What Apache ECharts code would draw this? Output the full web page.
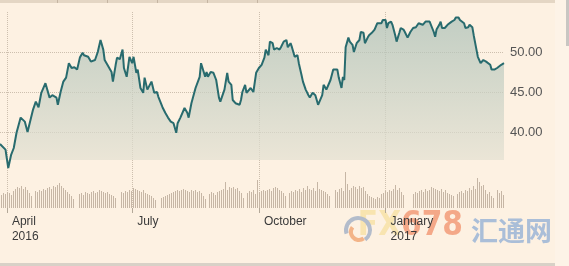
<!DOCTYPE html>
<html><head><meta charset="utf-8">
<script src="https://cdn.jsdelivr.net/npm/echarts@6/dist/echarts.min.js"></script>
<style>html,body{margin:0;padding:0;background:#fdf1e2;overflow:hidden}#c{width:569px;height:266px}</style>
</head><body><div id="c"></div>
<script>
// ---- data ----
const axisStart = '2016-03-27';
const axisEnd = '2017-03-28';
const tickDates = ['2016-04-01', '2016-07-01', '2016-10-01', '2017-01-01'];
const tickLabels = ['April\n2016', 'July', 'October', 'January\n2017'];
const yTickValues = [40, 45, 50];

const priceDates = [
'2016-03-27','2016-03-31','2016-04-02','2016-04-04','2016-04-06','2016-04-08','2016-04-11','2016-04-14','2016-04-16','2016-04-20','2016-04-22','2016-04-24','2016-04-26','2016-04-29',
'2016-05-02','2016-05-04','2016-05-07','2016-05-08','2016-05-10','2016-05-12','2016-05-14','2016-05-16','2016-05-18','2016-05-20','2016-05-22','2016-05-24','2016-05-26','2016-05-27','2016-05-30',
'2016-06-01','2016-06-04','2016-06-06','2016-06-08','2016-06-10','2016-06-11','2016-06-13','2016-06-16','2016-06-17','2016-06-19','2016-06-20','2016-06-22','2016-06-24','2016-06-25','2016-06-27','2016-06-29',
'2016-07-01','2016-07-02','2016-07-04','2016-07-05','2016-07-07','2016-07-09','2016-07-10','2016-07-12','2016-07-15','2016-07-17','2016-07-19','2016-07-20','2016-07-23','2016-07-25','2016-07-27','2016-07-29','2016-07-31',
'2016-08-02','2016-08-03','2016-08-05','2016-08-08','2016-08-10','2016-08-11','2016-08-13','2016-08-16','2016-08-19','2016-08-20','2016-08-21','2016-08-23','2016-08-24','2016-08-25','2016-08-27','2016-08-29','2016-08-31',
'2016-09-02','2016-09-03','2016-09-06','2016-09-08','2016-09-09','2016-09-11','2016-09-12','2016-09-14','2016-09-17','2016-09-18','2016-09-19','2016-09-21','2016-09-22','2016-09-25','2016-09-26','2016-09-27','2016-09-29',
'2016-10-01','2016-10-03','2016-10-05','2016-10-06','2016-10-08','2016-10-09','2016-10-11','2016-10-12','2016-10-14','2016-10-16','2016-10-17','2016-10-19','2016-10-21','2016-10-22','2016-10-24','2016-10-25','2016-10-27','2016-10-29','2016-10-30',
'2016-11-01','2016-11-02','2016-11-04','2016-11-06','2016-11-07','2016-11-09','2016-11-10','2016-11-11','2016-11-13','2016-11-14','2016-11-16','2016-11-17','2016-11-19','2016-11-20','2016-11-22','2016-11-24','2016-11-25','2016-11-27','2016-11-28','2016-11-30',
'2016-12-01','2016-12-02','2016-12-03','2016-12-05','2016-12-06','2016-12-08','2016-12-09','2016-12-11','2016-12-13','2016-12-14','2016-12-16','2016-12-17','2016-12-19','2016-12-20','2016-12-22','2016-12-24','2016-12-26','2016-12-27','2016-12-29','2016-12-30',
'2017-01-01','2017-01-02','2017-01-03','2017-01-05','2017-01-06','2017-01-08','2017-01-09','2017-01-11','2017-01-12','2017-01-14','2017-01-15','2017-01-17','2017-01-18','2017-01-19','2017-01-21','2017-01-23','2017-01-25','2017-01-26','2017-01-28','2017-01-30','2017-01-31',
'2017-02-02','2017-02-03','2017-02-05','2017-02-06','2017-02-07','2017-02-09','2017-02-10','2017-02-11','2017-02-13','2017-02-15','2017-02-16','2017-02-18','2017-02-20','2017-02-21','2017-02-23','2017-02-24','2017-02-25','2017-02-27','2017-02-28',
'2017-03-01','2017-03-02','2017-03-03','2017-03-05','2017-03-06','2017-03-08','2017-03-09','2017-03-11','2017-03-12','2017-03-13','2017-03-15','2017-03-16','2017-03-18','2017-03-19','2017-03-21','2017-03-23','2017-03-24','2017-03-26','2017-03-27','2017-03-28'
];
const priceValues = [
38.5,37.8,35.5,37.1,38.0,39.9,41.8,41.3,40.0,42.8,43.8,43.1,44.9,46.1,
44.3,44.6,44.3,43.4,45.0,46.3,46.8,48.6,48.0,48.1,47.8,49.3,49.9,49.6,49.4,
48.8,49.0,50.0,51.5,50.3,49.0,48.4,47.5,46.3,48.4,49.3,49.1,50.3,48.0,46.9,49.4,
48.6,49.4,47.4,47.8,45.5,44.9,46.8,45.3,46.3,44.9,45.0,44.4,43.1,42.4,41.8,41.3,41.1,
39.9,41.1,41.8,43.0,42.4,41.8,43.6,45.5,46.9,48.6,48.6,46.9,47.5,46.9,47.5,47.4,46.5,
44.3,43.8,45.3,47.4,46.3,45.9,44.0,43.6,43.4,44.0,45.0,45.9,44.9,45.5,45.5,45.0,47.4,
48.0,48.4,49.3,50.3,49.6,51.3,51.1,50.3,50.5,50.3,50.6,51.3,51.5,50.6,51.1,50.6,49.4,49.6,48.6,
47.1,46.3,45.3,44.6,44.3,44.9,45.0,44.6,43.4,43.4,44.6,45.9,45.3,45.5,46.5,47.8,48.0,47.8,46.8,45.5,
46.9,46.5,50.6,51.8,51.3,50.9,50.0,51.1,51.5,52.5,52.4,51.1,51.8,52.1,52.4,52.8,53.6,53.8,53.6,54.0,
54.0,53.0,53.6,53.8,53.4,52.1,51.3,52.4,53.0,52.8,52.5,51.8,51.8,52.5,53.0,53.1,53.6,53.8,53.4,53.8,54.0,
53.8,53.6,52.5,51.9,52.8,53.4,53.8,53.0,53.0,53.4,53.4,53.8,54.0,54.3,54.3,54.0,54.0,53.6,53.0,
52.8,53.1,53.4,53.1,52.1,50.3,49.4,48.6,48.6,49.0,48.8,48.6,48.4,47.8,47.8,48.0,48.1,48.4,48.6,48.6
];
// daily volume (one bar per session, relative units)
const volumeValues = [
13,15,14,16,15,13,17,19,21,20,22,19,21,18,15,12,
0,
17,16,18,17,19,18,20,21,19,22,21,23,25,22,20,18,16,14,12,9,
0,0,
14,15,13,16,15,14,16,17,15,16,18,17,16,15,16,14,13,12,10,
0,0,
16,15,17,16,18,17,20,19,18,17,16,18,15,14,13,12,10,8,
0,0,
10,11,12,13,14,15,16,17,18,17,18,19,18,17,16,18,17,18,16,17,15,12,9,
0,
14,16,15,13,16,17,18,19,26,18,21,20,21,19,20,17,15,10,
0,
15,17,16,18,14,28,16,17,18,17,18,19,17,20,21,20,18,17,15,12,
0,
15,17,16,18,17,19,16,20,18,22,19,18,20,17,26,19,18,17,16,14,12,
0,0,
18,16,19,20,17,36,24,18,20,22,21,19,22,20,21,17,14,
12,11,10,9,11,10,
14,15,17,16,18,17,19,23,18,20,16,13,
0,0,0,0,
14,16,15,17,18,16,19,17,18,21,20,19,18,17,19,16,18,15,14,13,12,
0,
14,16,17,15,18,17,20,18,22,19,30,26,22,23,18,14,16,12,10,
0,
18,15,17,13
];

// ---- calendar categories ----
const days = [];
for (let t = Date.parse(axisStart + 'T00:00:00Z'); t <= Date.parse(axisEnd + 'T00:00:00Z'); t += 86400000) {
  days.push(new Date(t).toISOString().slice(0, 10));
}
const volCats = volumeValues.map((_, i) => String(i));
const isTick = (i, v) => tickDates.indexOf(v) >= 0;

const gridLineColor = '#cdbfae';
const chart = echarts.init(document.getElementById('c'), null, {renderer: 'canvas'});
chart.setOption({
  animation: false,
  backgroundColor: '#fdf1e2',
  grid: [
    {left: 0, width: 504, top: 12, height: 200, outerBoundsMode: 'none'},
    {left: 0.5, width: 504, top: 168, height: 40, outerBoundsMode: 'none'}
  ],
  xAxis: [
    {
      gridIndex: 0, type: 'category', data: days, boundaryGap: false, offset: -4,
      axisLine: {show: false},
      axisTick: {show: true, length: 5, interval: isTick, lineStyle: {color: '#b3a898'}},
      axisLabel: {
        interval: isTick, align: 'left', padding: [0, 0, 0, 5], margin: 6,
        fontSize: 12, lineHeight: 15, color: '#3a3a3a', fontFamily: 'Liberation Sans, Arial, sans-serif',
        formatter: v => tickLabels[tickDates.indexOf(v)] || ''
      },
      splitLine: {show: true, interval: isTick, lineStyle: {color: gridLineColor, type: 'dotted', width: 1}}
    },
    {gridIndex: 1, type: 'category', data: volCats, show: false}
  ],
  yAxis: [
    {
      gridIndex: 0, type: 'value', position: 'right', min: 30, max: 55, interval: 5,
      axisLine: {show: false}, axisTick: {show: false},
      axisLabel: {
        margin: 6, fontSize: 13, color: '#555', fontFamily: 'Liberation Sans, Arial, sans-serif',
        formatter: v => yTickValues.indexOf(v) >= 0 ? v.toFixed(2) : ''
      },
      splitLine: {show: true, lineStyle: {
        color: ['rgba(0,0,0,0)', 'rgba(0,0,0,0)', gridLineColor, gridLineColor, gridLineColor, 'rgba(0,0,0,0)'],
        type: 'dotted', width: 1}}
    },
    {gridIndex: 1, type: 'value', min: 0, max: 40, show: false}
  ],
  series: [
    {
      type: 'bar', xAxisIndex: 1, yAxisIndex: 1, data: volumeValues, barWidth: 1,
      itemStyle: {color: '#c6b6a5'}, silent: true, z: 1
    },
    {
      type: 'line', xAxisIndex: 0, yAxisIndex: 0,
      data: priceDates.map((d, i) => [d, priceValues[i]]),
      showSymbol: false, symbol: 'none', smooth: false, silent: true, z: 3,
      lineStyle: {color: '#286b6e', width: 2},
      areaStyle: {
        origin: 36.5,
        color: new echarts.graphic.LinearGradient(0, 0, 0, 1, [
          {offset: 0, color: '#a9bfb6'},
          {offset: 1, color: '#e6e2d3'}
        ])
      }
    }
  ],
  graphic: {elements: [
    {type: 'rect', shape: {x: 0, y: 0, width: 555, height: 3}, style: {fill: '#e4d6c4'}, silent: true},
    {type: 'rect', shape: {x: 57, y: 0, width: 1, height: 3}, style: {fill: '#c5b5a2'}, silent: true},
    {type: 'rect', shape: {x: 107, y: 0, width: 1, height: 3}, style: {fill: '#c5b5a2'}, silent: true},
    {type: 'rect', shape: {x: 157, y: 0, width: 1, height: 3}, style: {fill: '#c5b5a2'}, silent: true},
    {type: 'rect', shape: {x: 207, y: 0, width: 1, height: 3}, style: {fill: '#c5b5a2'}, silent: true},
    {type: 'rect', shape: {x: 257, y: 0, width: 1, height: 3}, style: {fill: '#c5b5a2'}, silent: true},
    {type: 'rect', shape: {x: 555, y: 0, width: 14, height: 266}, style: {fill: '#fdf3e7'}, silent: true},
    {type: 'rect', shape: {x: 566, y: 0, width: 3, height: 46}, style: {fill: '#c9c6c2'}, silent: true},
    {type: 'rect', shape: {x: 0, y: 263, width: 555, height: 3}, style: {fill: '#d8d1c7'}, silent: true},
    {type: 'arc', shape: {cx: 358, cy: 230, r: 12, startAngle: Math.PI * 0.9, endAngle: Math.PI * 2.3}, style: {stroke: '#b3bccb', lineWidth: 4, fill: null}, silent: true},
    {type: 'arc', shape: {cx: 359, cy: 232, r: 8, startAngle: Math.PI * 0.3, endAngle: Math.PI * 1.2}, style: {stroke: '#f3b488', lineWidth: 4, fill: null}, silent: true},
    {type: 'text', x: 463, y: 243, style: {
      text: '{a|FX}{b|678}', align: 'right', verticalAlign: 'bottom',
      rich: {
        a: {fontSize: 33, fontWeight: 'bold', fill: '#f8e4b0', fontFamily: 'Liberation Sans Narrow, DejaVu Sans Condensed, Liberation Sans, sans-serif'},
        b: {fontSize: 33, fontWeight: 'bold', fill: '#f4a888', fontFamily: 'Liberation Sans Narrow, DejaVu Sans Condensed, Liberation Sans, sans-serif'}
      }}, silent: true, z: -1},
    {type: 'text', x: 471, y: 244, style: {
      text: '汇通网', fontSize: 27, fontWeight: 'bold', fill: '#aabed8', verticalAlign: 'bottom',
      fontFamily: 'Noto Sans CJK SC, sans-serif'}, silent: true}
  ]}
});
</script>
</body></html>
